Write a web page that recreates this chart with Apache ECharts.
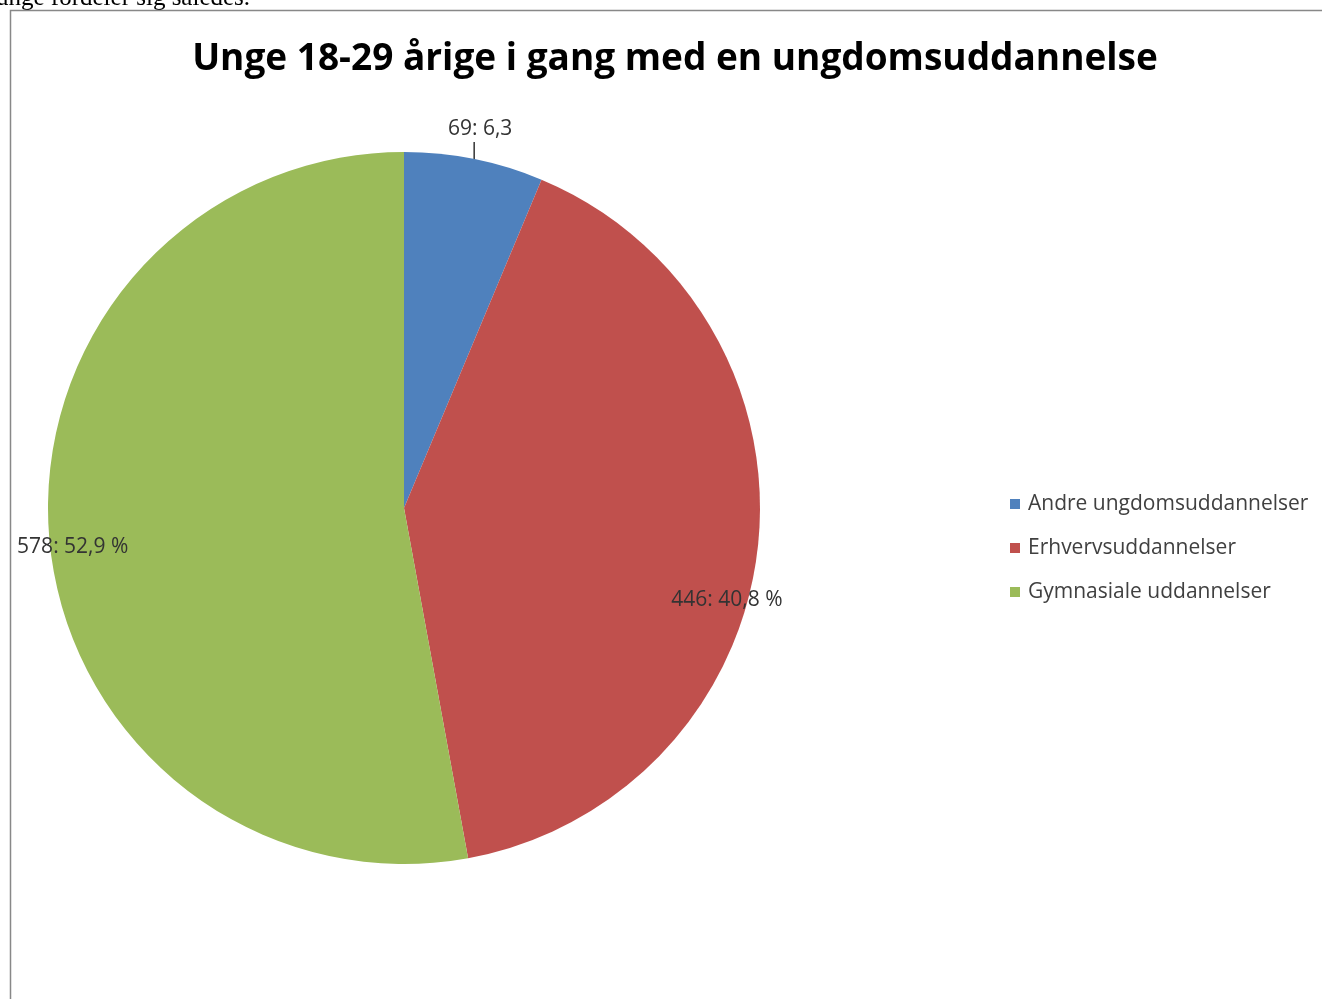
<!DOCTYPE html>
<html>
<head>
<meta charset="utf-8">
<script src="https://cdn.jsdelivr.net/npm/echarts@6/dist/echarts.min.js"></script>
<style>
body { margin: 0; background: #fff; }
#chart { width: 1322px; height: 999px; }
</style>
</head>
<body>
<div id="chart"></div>
<script>
// data
let categories = ['Andre ungdomsuddannelser', 'Erhvervsuddannelser', 'Gymnasiale uddannelser']
let values = [69, 446, 578]
let shares = ['6,3', '40,8 %', '52,9 %']
let colors = ['#4F81BD', '#C0504D', '#9BBB59']

let chart = echarts.init(document.getElementById('chart'))

// per-slice label placement (Excel "best fit" style)
let labelCfg = [
    { position: 'outside' },
    { position: 'inside', offset: [143, 73] },
    { position: 'inside', offset: [-151, 23] }
]

let option = {
    color: colors,
    animation: false,
    title: {
        text: 'Unge 18-29 årige i gang med en ungdomsuddannelse',
        left: 670,
        top: 36,
        textAlign: 'center',
        textStyle: {
            fontFamily: 'Open Sans',
            fontWeight: 'bold',
            fontSize: 37,
            color: '#000'
        }
    },
    legend: {
        orient: 'vertical',
        left: 1005,
        top: 486,
        itemWidth: 10,
        itemHeight: 10,
        itemGap: 18,
        icon: 'rect',
        textStyle: {
            fontFamily: 'Open Sans',
            fontSize: 21,
            lineHeight: 26,
            color: '#404040',
            padding: [0, 0, 0, 3]
        },
        data: categories
    },
    graphic: [
        {
            type: 'text',
            left: -4,
            top: -14,
            style: {
                text: 'unge fordeler sig således.',
                font: '25px "Liberation Serif"',
                fill: '#000'
            }
        },
        {
            type: 'polyline',
            shape: { points: [[10.5, 999], [10.5, 10.5], [1322, 10.5]] },
            style: { stroke: '#888', lineWidth: 1.5, fill: null }
        }
    ],
    series: [
        {
            type: 'pie',
            center: [404, 508],
            radius: 356,
            startAngle: 90,
            clockwise: true,
            label: {
                fontFamily: 'Open Sans',
                fontSize: 21,
                color: '#333'
            },
            labelLine: {
                length: 14,
                length2: 0,
                lineStyle: { color: '#000', width: 1.2 }
            },
            labelLayout: function (params) {
                // small slice: text centred above a vertical leader
                if (params.dataIndex === 0 && params.labelLinePoints) {
                    let p = params.labelLinePoints[0]
                    let top = [p[0], p[1] - 17]
                    return {
                        x: p[0] + 6,
                        y: p[1] - 30,
                        align: 'center',
                        verticalAlign: 'middle',
                        labelLinePoints: [p, top, top]
                    }
                }
            },
            emphasis: { disabled: true },
            data: categories.map(function (name, i) {
                return {
                    name: name,
                    value: values[i],
                    label: Object.assign({
                        formatter: values[i] + ': ' + shares[i]
                    }, labelCfg[i])
                }
            })
        }
    ]
}

chart.setOption(option)
</script>
</body>
</html>
